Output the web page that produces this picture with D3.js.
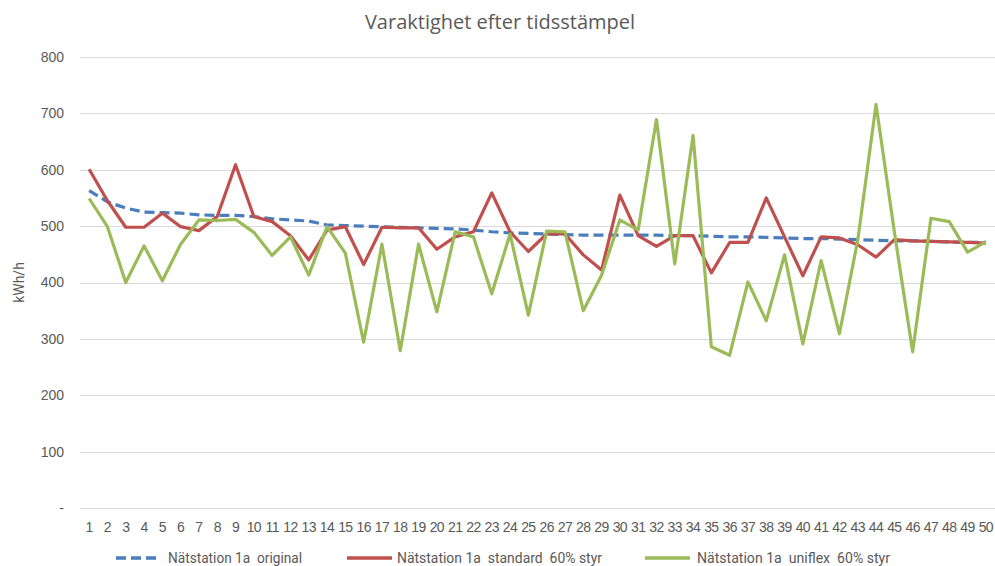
<!DOCTYPE html>
<html>
  <head>
    <meta charset="utf-8">
    <style>
      body { margin: 0; background: #fff; }
      svg { font-family: "Liberation Sans Narrow", "Roboto", sans-serif; }
      .grid line { stroke: #d9d9d9; stroke-width: 1px; shape-rendering: crispEdges; }
      .grid path { stroke-width: 0; }
      .tick text { fill: #595959; }
      .line { fill: none; stroke-width: 3.2px; stroke-linejoin: round; }
      .legend text { white-space: pre; }
    </style>
    <script src="https://d3js.org/d3.v7.min.js"></script>
  </head>
  <body>
    <script>
      var categories = d3.range(1, 51);

      var original = [563, 543, 532, 525, 524, 523, 520, 519, 519, 517,
                      513, 511, 509, 502, 501, 500, 499, 498, 497, 496,
                      495, 493, 490, 488, 487, 486, 485, 484, 484, 484,
                      484, 484, 483, 483, 482, 481, 481, 480, 479, 478,
                      478, 477, 476, 475, 474, 474, 473, 472, 471, 471];

      var standard = [601, 545, 498, 498, 523, 499, 492, 517, 609, 517,
                      508, 483, 440, 493, 499, 432, 498, 497, 497, 459,
                      481, 490, 559, 490, 455, 486, 486, 449, 422, 555,
                      483, 464, 483, 483, 417, 471, 471, 550, 481, 412,
                      481, 479, 467, 445, 476, 474, 473, 472, 471, 470];

      var uniflex = [549, 499, 400, 465, 403, 468, 511, 510, 512, 489,
                     448, 481, 413, 499, 452, 294, 468, 279, 468, 348,
                     490, 481, 380, 486, 342, 491, 490, 350, 413, 511,
                     493, 689, 433, 661, 286, 271, 401, 332, 449, 291,
                     439, 309, 475, 716, 490, 277, 514, 508, 454, 472];

      var yTicks = [0, 100, 200, 300, 400, 500, 600, 700, 800];

      var seriesNames = ["Nätstation 1a  original",
                         "Nätstation 1a  standard  60% styr",
                         "Nätstation 1a  uniflex  60% styr"];
      var seriesColors = ["#4a7ebb", "#c0504d", "#9bbb59"];

      var width = 995, height = 566;
      var plot = {left: 80, right: 995, top: 57, bottom: 508};

      var svg = d3.select("body").append("svg")
        .attr("width", width)
        .attr("height", height);

      var x = d3.scaleBand()
        .domain(categories)
        .range([plot.left, plot.right])
        .padding(0);

      var y = d3.scaleLinear()
        .domain([0, 800])
        .range([plot.bottom, plot.top]);

      function cx(d, i) { return x(categories[i]) + x.bandwidth() / 2; }

      // horizontal gridlines + y labels
      svg.append("g")
        .attr("class", "grid")
        .attr("transform", "translate(" + plot.left + ",0)")
        .call(d3.axisLeft(y)
          .tickValues(yTicks)
          .tickSize(-(plot.right - plot.left))
          .tickPadding(16)
          .tickFormat(function(d) { return d === 0 ? "-" : d; }))
        .selectAll("text")
          .attr("font-size", "14px");

      // x labels
      var xa = svg.append("g")
        .attr("transform", "translate(0," + plot.bottom + ")")
        .call(d3.axisBottom(x).tickSize(0).tickPadding(14));
      xa.select(".domain").remove();
      xa.selectAll("text")
        .attr("font-size", "14px")
        .attr("letter-spacing", "-0.6px");

      // y title
      svg.append("text")
        .attr("transform", "translate(24," + ((plot.top + plot.bottom) / 2) + ") rotate(-90)")
        .attr("text-anchor", "middle")
        .attr("font-size", "14px")
        .attr("fill", "#595959")
        .text("kWh/h");

      // title
      svg.append("text")
        .attr("x", 500)
        .attr("y", 29)
        .attr("text-anchor", "middle")
        .attr("font-family", "'Open Sans', sans-serif")
        .attr("font-size", "20px")
        .attr("fill", "#595959")
        .text("Varaktighet efter tidsstämpel");

      var line = d3.line()
        .x(cx)
        .y(function(d) { return y(d); });

      var allSeries = [original, standard, uniflex];
      allSeries.forEach(function(s, i) {
        svg.append("path")
          .datum(s)
          .attr("class", "line")
          .attr("stroke", seriesColors[i])
          .attr("stroke-dasharray", i === 0 ? "10,5" : null)
          .attr("d", line);
      });

      // legend
      var legendX = [116, 347, 645];
      var legendTextX = [168, 397, 697];
      var legendTextW = [134, 205, 193];
      var lg = svg.append("g").attr("class", "legend").attr("transform", "translate(0,558)");
      seriesNames.forEach(function(name, i) {
        lg.append("line")
          .attr("x1", legendX[i])
          .attr("x2", legendX[i] + 45)
          .attr("stroke", seriesColors[i])
          .attr("stroke-width", 3.5)
          .attr("stroke-dasharray", i === 0 ? "10,5" : null);
        lg.append("text")
          .attr("x", legendTextX[i])
          .attr("y", 5)
          .attr("font-size", "14px")
          .attr("fill", "#595959")
          .attr("textLength", legendTextW[i])
          .attr("lengthAdjust", "spacingAndGlyphs")
          .text(name);
      });
    </script>
  </body>
</html>
